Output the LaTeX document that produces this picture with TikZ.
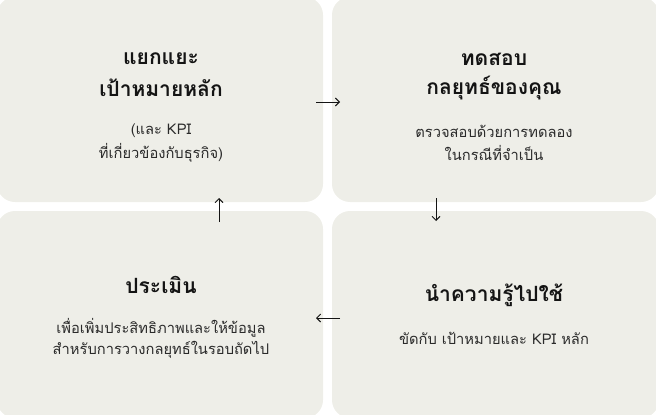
\documentclass[tikz,border=0pt]{standalone}
\usepackage{fontspec}
\usetikzlibrary{arrows.meta}
\newfontfamily\thaifont[Script=Thai]{Loma}
\definecolor{boxfill}{HTML}{EEEEE8}
\definecolor{ink}{HTML}{141414}
\definecolor{bodyink}{HTML}{2A2A2A}
\tikzset{
  card/.style={fill=boxfill, rounded corners=18pt},
  ttl/.style={font=\thaifont\bfseries\fontsize{21}{29}\selectfont, text=ink, align=center, inner sep=0pt},
  bdy/.style={font=\thaifont\fontsize{14.7}{22.5}\selectfont, text=bodyink, align=center, inner sep=0pt},
  flow/.style={draw=ink, line width=0.9pt, -{Straight Barb[length=4pt,width=8pt]}}
}
\begin{document}
\begin{tikzpicture}[x=1pt,y=-1pt]
\useasboundingbox (0,0) rectangle (656,415);
\begin{scope}
\clip (0,0) rectangle (656,415);
\fill[card] (-3,-3) rectangle (323,202);
\fill[card] (332,-3) rectangle (659,202);
\fill[card] (-3,211) rectangle (323,418);
\fill[card] (332,211) rectangle (659,418);
\end{scope}
% texts
\node[ttl] (t1a) at (161,59) {แยกแยะ};
\node[ttl] (t1b) at (161,88) {เป้าหมายหลัก};
\node[bdy] (b1a) at (161,131) {(และ KPI};
\node[bdy] (b1b) at (161,153) {ที่เกี่ยวข้องกับธุรกิจ)};
\node[ttl] (t2a) at (494,59) {ทดสอบ};
\node[ttl] (t2b) at (494,88) {กลยุทธ์ของคุณ};
\node[bdy] (b2a) at (494,131) {ตรวจสอบด้วยการทดลอง};
\node[bdy] (b2b) at (494,153) {ในกรณีที่จำเป็น};
\node[ttl] (t3) at (494,295) {นำความรู้ไปใช้};
\node[bdy] (b3) at (494,338) {ขัดกับ เป้าหมายและ KPI หลัก};
\node[ttl] (t4) at (161,285) {ประเมิน};
\node[bdy] (b4a) at (161,328) {เพื่อเพิ่มประสิทธิภาพและให้ข้อมูล};
\node[bdy] (b4b) at (161,350) {สำหรับการวางกลยุทธ์ในรอบถัดไป};
% arrow anchors
\coordinate (a1s) at (316,102);
\coordinate (a1e) at (340,102);
\coordinate (a2s) at (436,198);
\coordinate (a2e) at (436,221);
\coordinate (a3s) at (340,318);
\coordinate (a3e) at (316,318);
\coordinate (a4s) at (219,222);
\coordinate (a4e) at (219,198);
\draw[flow] (a1s) -- (a1e);
\draw[flow] (a2s) -- (a2e);
\draw[flow] (a3s) -- (a3e);
\draw[flow] (a4s) -- (a4e);
\end{tikzpicture}
\end{document}
